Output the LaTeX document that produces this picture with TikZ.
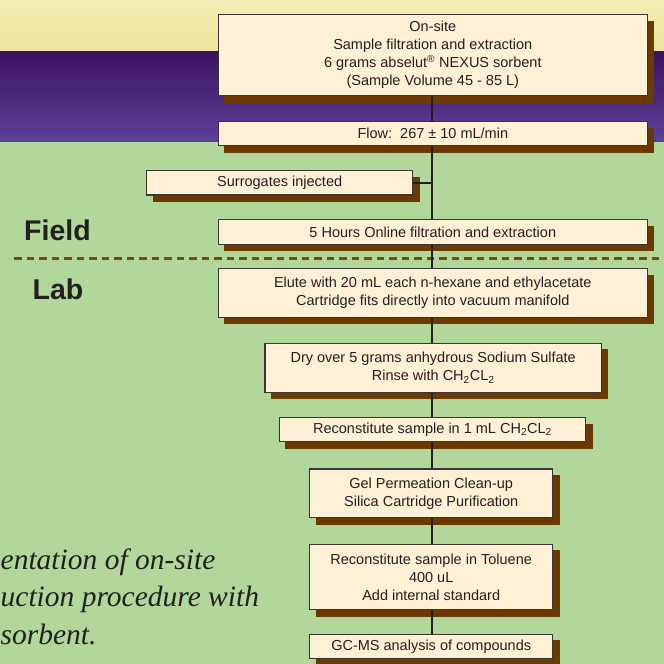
\documentclass[tikz,border=0pt]{standalone}
\usepackage{fontspec}
\setmainfont{Liberation Sans}
\newfontfamily\capfont{Liberation Serif}
\pgfdeclarelayer{bg}
\pgfdeclarelayer{shad}
\pgfdeclarelayer{ln}
\pgfsetlayers{bg,shad,ln,main}
\definecolor{ylwtop}{HTML}{F3EEB4}
\definecolor{ylwbot}{HTML}{ECE49C}
\definecolor{purtop}{HTML}{3C1260}
\definecolor{purbot}{HTML}{5E4099}
\definecolor{bggreen}{HTML}{B1D79A}
\definecolor{boxfill}{HTML}{FFF0D6}
\definecolor{boxedge}{HTML}{3A3535}
\definecolor{shadowbrown}{HTML}{6B3A03}
\definecolor{dashbrown}{HTML}{7A4A08}
\definecolor{textdark}{HTML}{231F20}
\tikzset{
  stepbox/.style={draw=boxedge, line width=1.2pt, fill=boxfill, inner sep=0pt,
    align=center, text=textdark, font=\fontsize{14.5}{18}\selectfont},
  link/.style={draw=textdark, line width=2pt},
  zonelbl/.style={inner sep=0pt, text=textdark, font=\fontsize{28.5}{30}\selectfont\bfseries},
  caplbl/.style={inner sep=0pt, text=textdark, font=\fontsize{29.5}{37}\selectfont\capfont\itshape},
}
\begin{document}
\begin{tikzpicture}[x=1pt,y=-1pt]
\useasboundingbox (0,0) rectangle (664,664);
\begin{pgfonlayer}{bg}
  \shade[top color=ylwtop, bottom color=ylwbot] (0,0) rectangle (664,51);
  \shade[top color=purtop, bottom color=purbot] (0,51) rectangle (664,142.3);
  \fill[bggreen] (0,142.3) rectangle (664,664);
  \draw[dashbrown, line width=3pt, dash pattern=on 7.5pt off 5pt] (14,258.5) -- (664,258.5);
\end{pgfonlayer}

\node[stepbox, minimum width=429pt, minimum height=81pt] (b1) at (432.8,55.2)
  {On-site\\Sample filtration and extraction\\6 grams abselut\textsuperscript{®} NEXUS sorbent\\(Sample Volume 45 - 85 L)};
\node[stepbox, minimum width=429pt, minimum height=24pt] (flow) at (432.8,133.7)
  {Flow:\ \ 267 ± 10 mL/min};
\node[stepbox, minimum width=266pt, minimum height=24.3pt] (sur) at (279.7,182.85)
  {Surrogates injected};
\node[stepbox, minimum width=429pt, minimum height=24.6pt] (hrs) at (432.8,232)
  {5 Hours Online filtration and extraction};
\node[stepbox, minimum width=429pt, minimum height=48.5pt] (elute) at (432.8,293)
  {Elute with 20 mL each n-hexane and ethylacetate\\Cartridge fits directly into vacuum manifold};
\node[stepbox, minimum width=336.3pt, minimum height=49pt] (dry) at (433.2,367.8)
  {Dry over 5 grams anhydrous Sodium Sulfate\\Rinse with CH\textsubscript{2}CL\textsubscript{2}};
\node[stepbox, minimum width=306.4pt, minimum height=24pt] (rec) at (432.5,429.7)
  {Reconstitute sample in 1 mL CH\textsubscript{2}CL\textsubscript{2}};
\node[stepbox, minimum width=243.2pt, minimum height=48.7pt] (gel) at (431.2,493.35)
  {Gel Permeation Clean-up\\Silica Cartridge Purification};
\node[stepbox, minimum width=243.2pt, minimum height=65.4pt] (tol) at (431.2,577)
  {Reconstitute sample in Toluene\\400 uL\\Add internal standard};
\node[stepbox, minimum width=243.2pt, minimum height=24pt] (gc) at (431.2,646.3)
  {GC-MS analysis of compounds};

\node[zonelbl, anchor=base west] (field) at (24,240) {Field};
\node[zonelbl, anchor=base west] (lab) at (32.5,299) {Lab};

\node[caplbl, anchor=base west] (cap1) at (0.5,569) {entation of on-site};
\node[caplbl, anchor=base west] (cap2) at (0.5,606.5) {uction procedure with};
\node[caplbl, anchor=base west] (cap3) at (0.5,644) {sorbent.};

\begin{pgfonlayer}{shad}
  \foreach \n in {b1,flow,sur,hrs,elute,dry,rec,gel,tol,gc}
    \fill[shadowbrown] ([shift={(6.5,6.5)}]\n.south west) rectangle ([shift={(6.5,6.5)}]\n.north east);
\end{pgfonlayer}
\begin{pgfonlayer}{ln}
  \draw[link] (b1.south -| 432.3,0) -- (gc.north -| 432.3,0);
  \draw[link] (sur.east) -- (sur.east -| b1.south);
\end{pgfonlayer}
\end{tikzpicture}
\end{document}
